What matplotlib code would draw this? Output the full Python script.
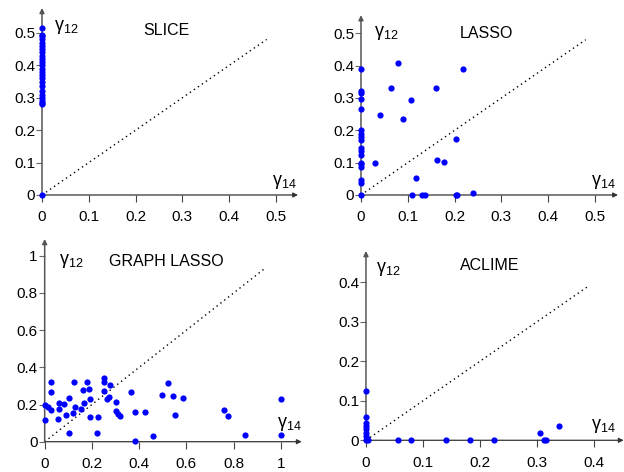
import matplotlib
matplotlib.use("Agg")
import matplotlib.pyplot as plt

plt.rcParams['font.family'] = ['Liberation Sans', 'DejaVu Sans']
plt.rcParams['mathtext.fontset'] = 'custom'
plt.rcParams['mathtext.rm'] = 'Liberation Sans'
plt.rcParams['mathtext.it'] = 'Liberation Sans'

# ---- data ----
slice_x = [0]*25
slice_y = [0.515, 0.495, 0.49, 0.48, 0.47, 0.46, 0.45, 0.44, 0.43, 0.42, 0.41, 0.40,
           0.39, 0.38, 0.37, 0.36, 0.35, 0.335, 0.32, 0.31, 0.30, 0.29, 0.285, 0.28, 0.0]

lasso_x = [0, 0, 0, 0, 0, 0, 0, 0, 0, 0, 0, 0, 0, 0, 0, 0, 0, 0,
           0.079, 0.065, 0.041, 0.107, 0.090, 0.160, 0.218, 0.204, 0.163, 0.178,
           0.031, 0.117, 0.109, 0.131, 0.136, 0.202, 0.205, 0.240]
lasso_y = [0.389, 0.321, 0.314, 0.298, 0.267, 0.200, 0.190, 0.180, 0.170, 0.144,
           0.135, 0.125, 0.100, 0.095, 0.088, 0.046, 0.036, 0.0,
           0.409, 0.331, 0.248, 0.294, 0.234, 0.331, 0.391, 0.174, 0.107, 0.103,
           0.098, 0.053, 0.0, 0.0, 0.0, 0.0, 0.0, 0.007]

glasso_x = [0.0, 0.0, 0.016, 0.027, 0.027, 0.027, 0.055, 0.061, 0.061, 0.080, 0.089,
            0.102, 0.104, 0.121, 0.123, 0.127, 0.154, 0.164, 0.166, 0.178, 0.186,
            0.190, 0.190, 0.223, 0.227, 0.250, 0.252, 0.251, 0.262, 0.274, 0.276,
            0.300, 0.300, 0.309, 0.317, 0.365, 0.381, 0.384, 0.426, 0.457, 0.498,
            0.520, 0.544, 0.553, 0.585, 0.757, 0.774, 0.850, 1.0, 1.0]
glasso_y = [0.117, 0.196, 0.187, 0.171, 0.268, 0.320, 0.124, 0.174, 0.210, 0.205, 0.144,
            0.048, 0.233, 0.154, 0.320, 0.187, 0.174, 0.276, 0.210, 0.320, 0.282,
            0.230, 0.133, 0.048, 0.135, 0.343, 0.323, 0.273, 0.232, 0.239, 0.305,
            0.215, 0.167, 0.151, 0.136, 0.268, 0.002, 0.158, 0.158, 0.031, 0.251,
            0.316, 0.248, 0.144, 0.237, 0.172, 0.136, 0.038, 0.228, 0.034]

aclime_x = [0, 0, 0, 0, 0, 0, 0, 0, 0.002, 0.003, 0.001,
            0.0556, 0.079, 0.141, 0.183, 0.225, 0.305, 0.313, 0.316, 0.339]
aclime_y = [0.124, 0.059, 0.045, 0.036, 0.028, 0.019, 0.011, 0.0, 0.002, 0.0, 0.004,
            0.0, 0.0, 0.0, 0.0, 0.0, 0.019, 0.0, 0.0, 0.036]

panels = [
    dict(name="SLICE", x=slice_x, y=slice_y,
         xticks=[0, 0.1, 0.2, 0.3, 0.4, 0.5], xtl=["0", "0.1", "0.2", "0.3", "0.4", "0.5"],
         yticks=[0, 0.1, 0.2, 0.3, 0.4, 0.5], ytl=["0", "0.1", "0.2", "0.3", "0.4", "0.5"],
         diag=0.48, pos=[0.0673, 0.5869, 0.4103, 0.3962], xlim=0.547, ylim=0.577,
         title_xy=(0.487, 0.882), g12=(0.045, 0.898), g14=(0.996, 0.07)),
    dict(name="LASSO", x=lasso_x, y=lasso_y,
         xticks=[0, 0.1, 0.2, 0.3, 0.4, 0.5], xtl=["0", "0.1", "0.2", "0.3", "0.4", "0.5"],
         yticks=[0, 0.1, 0.2, 0.3, 0.4, 0.5], ytl=["0", "0.1", "0.2", "0.3", "0.4", "0.5"],
         diag=0.48, pos=[0.5785, 0.5869, 0.4119, 0.381], xlim=0.549, ylim=0.556,
         title_xy=(0.49, 0.898), g12=(0.05, 0.90), g14=(0.992, 0.072)),
    dict(name="GRAPH LASSO", x=glasso_x, y=glasso_y,
         xticks=[0, 0.2, 0.4, 0.6, 0.8, 1.0], xtl=["0", "0.2", "0.4", "0.6", "0.8", "1"],
         yticks=[0, 0.2, 0.4, 0.6, 0.8, 1.0], ytl=["0", "0.2", "0.4", "0.6", "0.8", "1"],
         diag=0.93, pos=[0.0716, 0.0642, 0.4119, 0.4294], xlim=1.088, ylim=1.09,
         title_xy=(0.475, 0.891), g12=(0.057, 0.89), g14=(1.0, 0.087)),
    dict(name="ACLIME", x=aclime_x, y=aclime_y,
         xticks=[0, 0.1, 0.2, 0.3, 0.4], xtl=["0", "0.1", "0.2", "0.3", "0.4"],
         yticks=[0, 0.1, 0.2, 0.3, 0.4], ytl=["0", "0.1", "0.2", "0.3", "0.4"],
         diag=0.39, pos=[0.5865, 0.0672, 0.413, 0.401], xlim=0.452, ylim=0.479,
         title_xy=(0.482, 0.924), g12=(0.04, 0.905), g14=(0.97, 0.076)),
]

fig = plt.figure(figsize=(6.24, 4.72), dpi=100)

for p in panels:
    ax = fig.add_axes(p["pos"])
    ax.set_xlim(0, p["xlim"])
    ax.set_ylim(0, p["ylim"])
    for s in ax.spines.values():
        s.set_visible(False)
    ax.set_xticks(p["xticks"])
    ax.set_xticklabels(p["xtl"])
    ax.set_yticks(p["yticks"])
    ax.set_yticklabels(p["ytl"])
    ax.tick_params(axis='x', length=5, width=0.8, color='#444', labelsize=11, pad=6)
    ax.tick_params(axis='y', length=4, width=0.8, color='#666', labelsize=11, pad=1)
    # axes arrows
    ax.annotate("", xy=(1, 0), xytext=(0, 0), xycoords='axes fraction',
                arrowprops=dict(arrowstyle='-|>', color='#333', lw=0.9,
                                mutation_scale=7, shrinkA=0, shrinkB=0))
    ax.annotate("", xy=(0, 1), xytext=(0, 0), xycoords='axes fraction',
                arrowprops=dict(arrowstyle='-|>', color='#555', lw=1.1,
                                mutation_scale=7, shrinkA=0, shrinkB=0))
    # diagonal
    ax.plot([0, p["diag"]], [0, p["diag"]], linestyle=(0, (1, 2.5)), color='black', lw=1)
    ax.scatter(p["x"], p["y"], s=20, color='#0000ff', zorder=5, clip_on=False,
               linewidths=0)
    ax.text(p["g12"][0], p["g12"][1], r'$\gamma_{12}$', transform=ax.transAxes,
            fontsize=13, va='center', ha='left')
    ax.text(p["g14"][0], p["g14"][1], r'$\gamma_{14}$', transform=ax.transAxes,
            fontsize=13, va='center', ha='right')
    ax.text(p["title_xy"][0], p["title_xy"][1], p["name"], transform=ax.transAxes,
            fontsize=11.5, ha='center', va='center')

fig.savefig("out.png", dpi=100)
